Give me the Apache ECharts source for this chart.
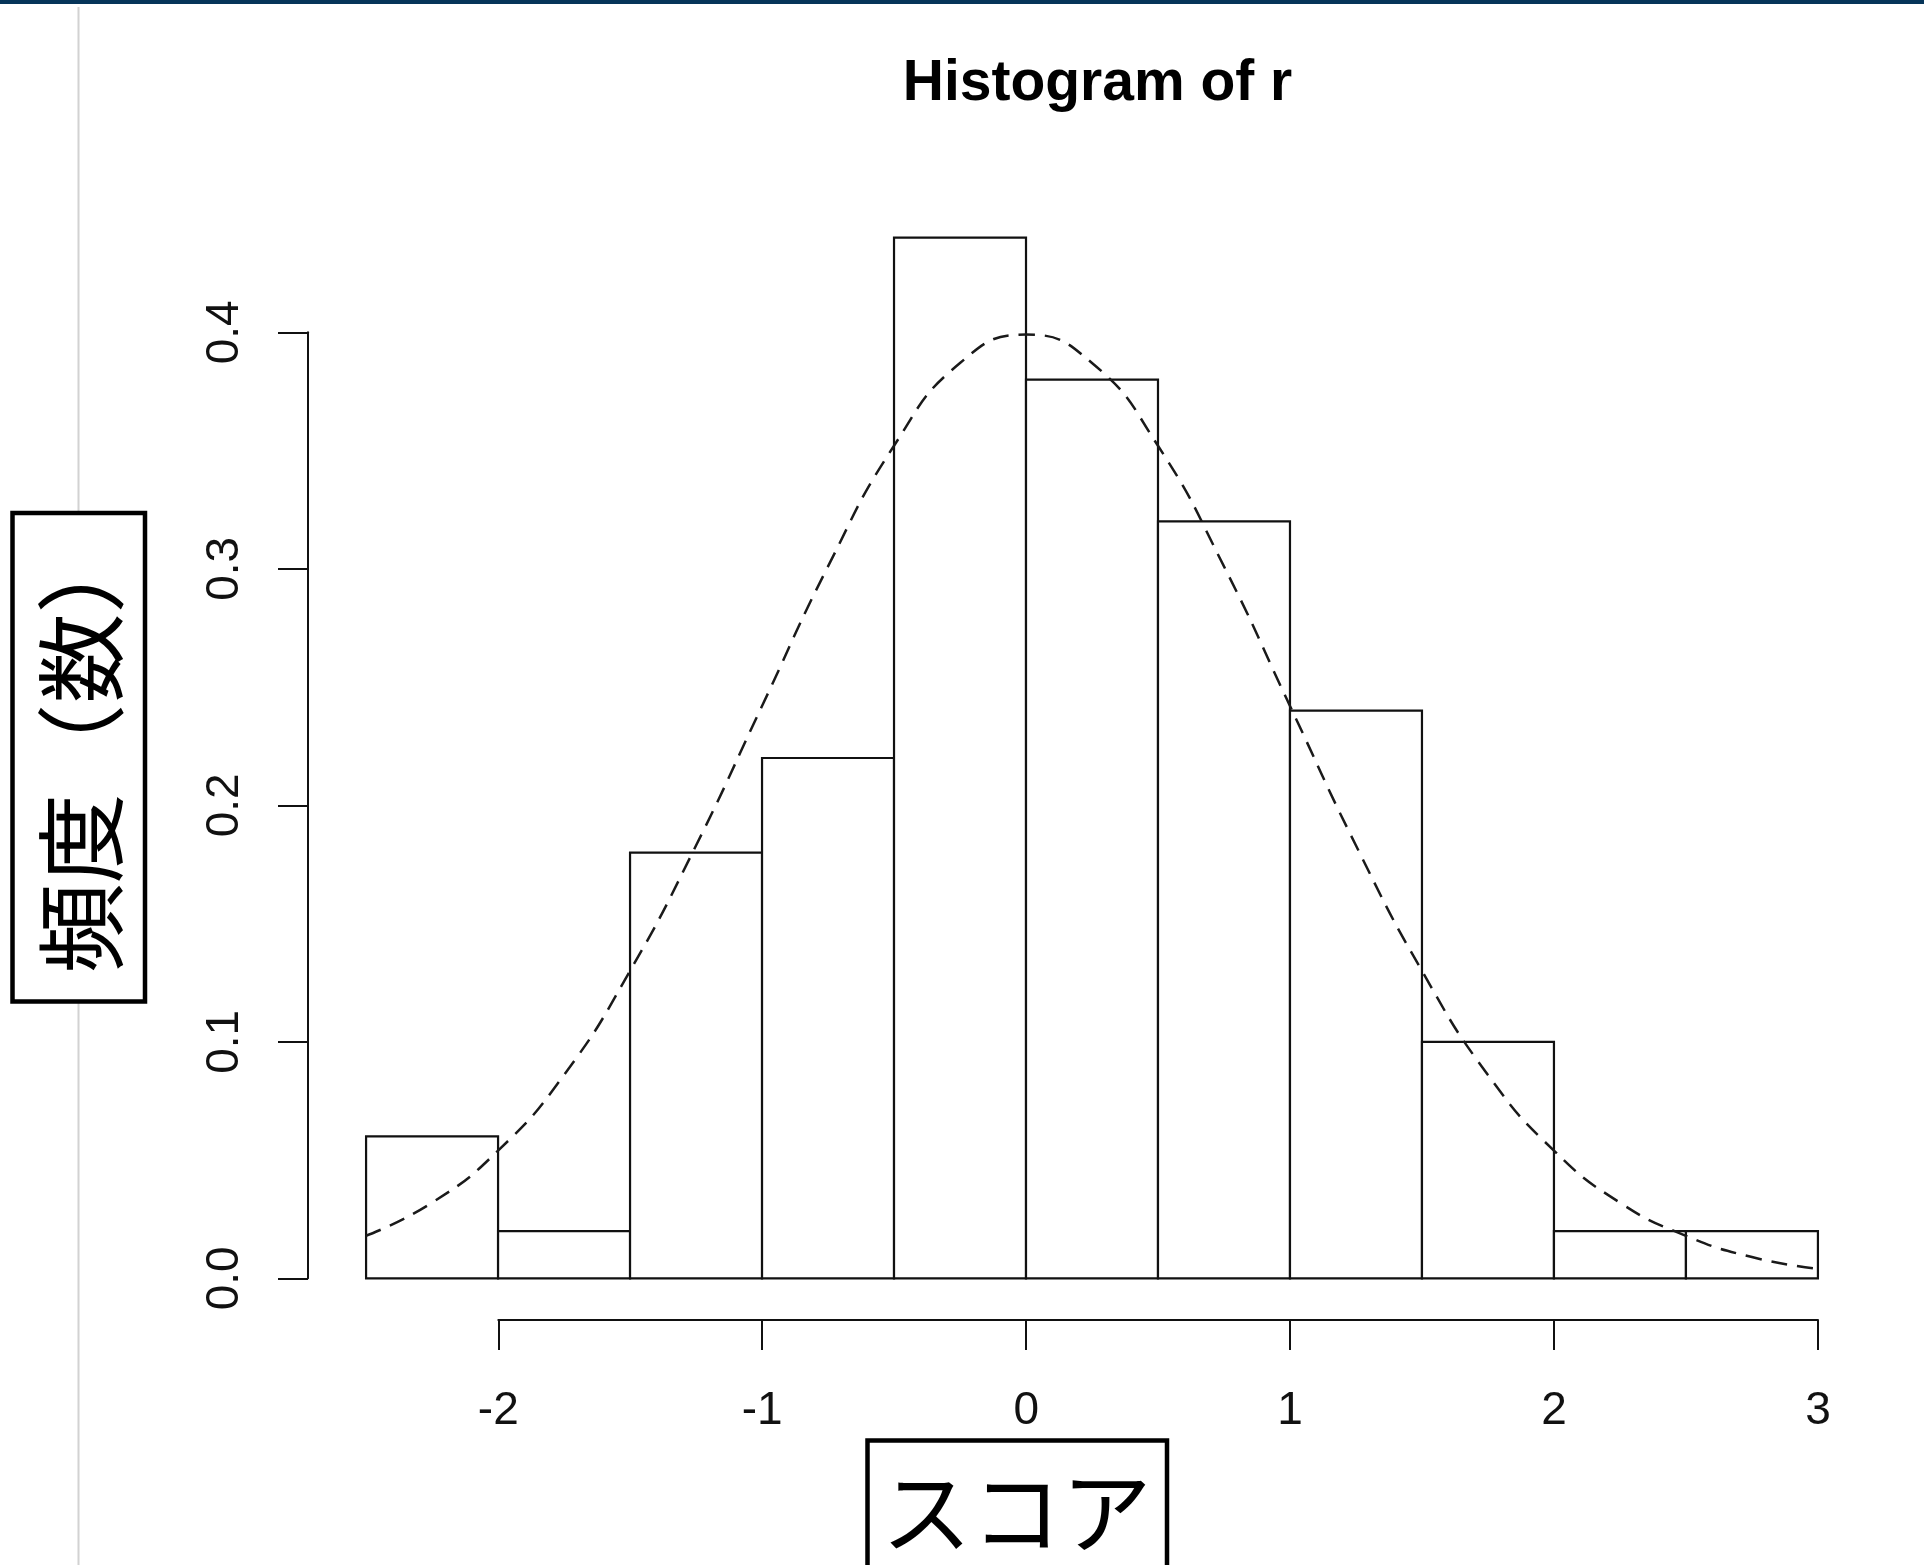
<!DOCTYPE html>
<html>
<head>
<meta charset="utf-8">
<script src="https://cdn.jsdelivr.net/npm/echarts@6/dist/echarts.min.js"></script>
<style>
  html, body { margin: 0; padding: 0; background: #fff; }
  #chart { width: 1924px; height: 1565px; }
</style>
</head>
<body>
<div id="chart"></div>
<script>
// Histogram bins (break points) and the density of each bin
const binEdges = [-2.5, -2, -1.5, -1, -0.5, 0, 0.5, 1, 1.5, 2, 2.5, 3];
const binDensity = [0.06, 0.02, 0.18, 0.22, 0.44, 0.38, 0.32, 0.24, 0.10, 0.02, 0.02];

// Reference density curve (dashed)
const curveX = [-2.5, -2.25, -2, -1.75, -1.5, -1.25, -1, -0.75, -0.5, -0.25, 0,
                0.25, 0.5, 0.75, 1, 1.25, 1.5, 1.75, 2, 2.25, 2.5, 2.75, 3];
const curveY = [0.018, 0.032, 0.054, 0.086, 0.130, 0.183, 0.242, 0.301, 0.352, 0.387, 0.399,
                0.387, 0.352, 0.301, 0.242, 0.183, 0.130, 0.086, 0.054, 0.032, 0.018, 0.009, 0.004];

// Axis ticks and their labels
const yTicks = [0, 0.1, 0.2, 0.3, 0.4];
const yTickLabels = ['0.0', '0.1', '0.2', '0.3', '0.4'];
const xTicks = [-2, -1, 0, 1, 2, 3];
const xTickLabels = ['-2', '-1', '0', '1', '2', '3'];

const titleText = 'Histogram of r';
const yTitle = '頻度（数）';
const xTitle = 'スコア';

const ink = '#111';
const labelFont = '"Liberation Sans", Arial, Helvetica, sans-serif';
const cjkFont = '"Noto Sans CJK JP", "Noto Sans CJK SC", sans-serif';

function lookup(ticks, labels) {
  return function (v) {
    for (let i = 0; i < ticks.length; i++) {
      if (Math.abs(ticks[i] - v) < 1e-9) return labels[i];
    }
    return '';
  };
}

const bars = binDensity.map((d, i) => [binEdges[i], binEdges[i + 1], d]);
const curve = curveX.map((x, i) => [x, curveY[i]]);

const chart = echarts.init(document.getElementById('chart'), null, { renderer: 'canvas' });

chart.setOption({
  backgroundColor: '#fff',
  animation: false,
  title: {
    text: titleText,
    left: 1092.5,
    top: 51,
    textAlign: 'center',
    textStyle: { fontFamily: labelFont, fontSize: 57, fontWeight: 'bold', color: '#000' }
  },
  grid: [
    // plotting region
    { left: 308, top: 196, width: 1568, height: 1124 },
    // vertical axis strip (0 .. 0.4)
    { left: 308, top: 332.3, width: 10, height: 946 },
    // horizontal axis strip (-2 .. 3)
    { left: 498.3, top: 1310, width: 1319.7, height: 10 }
  ],
  xAxis: [
    { gridIndex: 0, type: 'value', min: -2.72, max: 3.22, show: false },
    { gridIndex: 1, type: 'value', min: 0, max: 1, show: false },
    {
      gridIndex: 2, type: 'value', min: -2, max: 3, interval: 1,
      axisLine: { show: true, lineStyle: { color: ink, width: 2 } },
      axisTick: { show: true, length: 30, lineStyle: { color: ink, width: 2 } },
      splitLine: { show: false },
      axisLabel: {
        margin: 68, fontSize: 46, fontFamily: labelFont, color: ink,
        formatter: lookup(xTicks, xTickLabels)
      }
    }
  ],
  yAxis: [
    { gridIndex: 0, type: 'value', min: -0.0176, max: 0.4576, show: false },
    {
      gridIndex: 1, type: 'value', min: 0, max: 0.4, interval: 0.1,
      axisLine: { show: true, lineStyle: { color: ink, width: 2 } },
      axisTick: { show: true, length: 30, lineStyle: { color: ink, width: 2 } },
      splitLine: { show: false },
      axisLabel: {
        rotate: 90, margin: 60, fontSize: 46, fontFamily: labelFont, color: ink,
        formatter: lookup(yTicks, yTickLabels)
      }
    },
    { gridIndex: 2, type: 'value', min: 0, max: 1, show: false }
  ],
  series: [
    {
      type: 'custom',
      xAxisIndex: 0, yAxisIndex: 0,
      data: bars,
      renderItem: function (params, api) {
        const p0 = api.coord([api.value(0), api.value(2)]);
        const p1 = api.coord([api.value(1), 0]);
        return {
          type: 'rect',
          shape: { x: p0[0], y: p0[1], width: p1[0] - p0[0], height: p1[1] - p0[1] },
          style: { fill: '#fff', stroke: ink, lineWidth: 2.2 }
        };
      },
      z: 2
    },
    {
      type: 'line',
      xAxisIndex: 0, yAxisIndex: 0,
      data: curve,
      smooth: true,
      symbol: 'none',
      lineStyle: { color: '#1a1a1a', width: 2.5, type: [16, 10] },
      z: 5
    }
  ],
  graphic: [
    // top page band
    { type: 'rect', z: 1, shape: { x: 0, y: 0, width: 1924, height: 4 }, style: { fill: '#063559' } },
    // thin page rule on the left
    { type: 'rect', z: 1, shape: { x: 77.5, y: 7, width: 2, height: 1565 }, style: { fill: '#d2d2d2' } },
    // boxed y title
    {
      type: 'rect', z: 10,
      shape: { x: 12.5, y: 513, width: 132.5, height: 488.5 },
      style: { fill: '#fff', stroke: '#000', lineWidth: 4.5 }
    },
    {
      type: 'text', z: 11,
      x: 81, y: 748.5, rotation: Math.PI / 2,
      style: {
        text: yTitle, fontSize: 90, fontFamily: cjkFont, fill: '#000',
        align: 'center', verticalAlign: 'middle'
      }
    },
    // boxed x title
    {
      type: 'rect', z: 10,
      shape: { x: 867.5, y: 1440.5, width: 299.5, height: 140 },
      style: { fill: '#fff', stroke: '#000', lineWidth: 4.5 }
    },
    {
      type: 'text', z: 11,
      x: 1016.5, y: 1512,
      style: {
        text: xTitle, fontSize: 90, fontFamily: cjkFont, fill: '#000',
        align: 'center', verticalAlign: 'middle'
      }
    }
  ]
});
</script>
</body>
</html>
